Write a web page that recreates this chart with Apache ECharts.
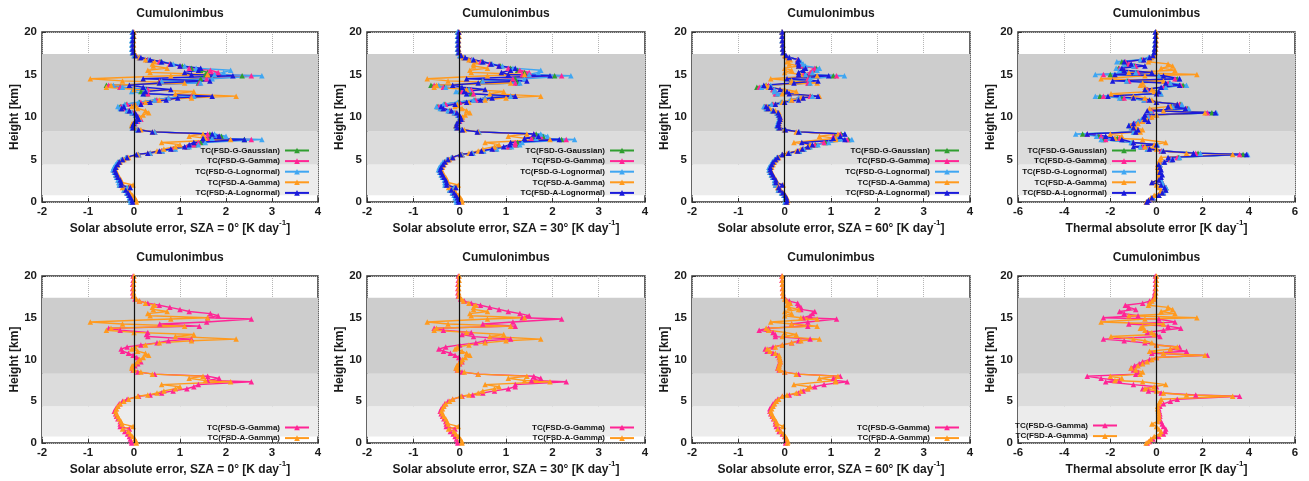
<!DOCTYPE html>
<html>
<head>
<meta charset="utf-8">
<script src="https://cdn.jsdelivr.net/npm/echarts@6/dist/echarts.min.js"></script>
<style>
html, body { margin: 0; padding: 0; background: #fff; }
#chart { width: 1309px; height: 481px; }
</style>
</head>
<body>
<div id="chart"></div>
<script>
// model levels (km), shared by every profile
var levels = [20, 19.5, 19, 18.5, 18, 17.6, 17.25,
    17, 16.75, 16.5, 16.25, 16, 15.75, 15.5, 15.25, 15, 14.85, 14.5, 14.25, 14,
    13.75, 13.5, 13.25, 13, 12.75, 12.45, 12.25, 12, 11.75, 11.5, 11.25, 11, 10.75,
    10.5, 10.25, 10, 9.75, 9.5, 9.25, 9, 8.75, 8.5, 8.25, 8, 7.75, 7.5,
    7.35, 7, 6.75, 6.5, 6.25, 6, 5.75, 5.6, 5.25, 5,
    4.7, 4.4, 4.1, 3.8, 3.5, 3.2, 2.9, 2.6, 2.3, 2, 1.7, 1.4, 1.1, 0.8, 0.5, 0.2, 0];

// solar, SZA = 0
var sza0GGauss = [-0.03, -0.03, -0.04, -0.04, -0.04, -0.03, 0.01,
    0.12, 0.3, 0.57, 0.8, 1.05, 1.25, 1.45, 1.6, 1.55, 2.35, 1.45, 0.55, 1.4,
    -0.6, -0.3, 0.28, 0.15, 0.28, 1.25, 0.75, 0.48, 0.12, -0.17, -0.3, -0.27, -0.13,
    -0.03, 0.05, 0.09, 0.14, 0.07, 0.01, -0.04, -0.03, 0.07, 0.45, 1.65, 1.9, 1.62,
    2.4, 1.45, 1.32, 1.16, 0.86, 0.6, 0.35, 0.1, -0.16, -0.26,
    -0.33, -0.37, -0.41, -0.44, -0.41, -0.39, -0.36, -0.32, -0.31, -0.31, -0.12, -0.21, -0.15, -0.11, -0.09, -0.07, -0.06];
var sza0GGamma = [-0.02, -0.02, -0.03, -0.03, -0.03, -0.02, 0.02,
    0.12, 0.3, 0.55, 0.78, 1.0, 1.2, 1.66, 1.83, 1.6, 2.55, 1.58, 0.56, 1.42,
    -0.55, -0.3, 0.3, 0.27, 0.3, 1.25, 0.75, 0.5, 0.15, -0.15, -0.28, -0.25, -0.12,
    -0.02, 0.06, 0.1, 0.15, 0.08, 0.02, -0.03, -0.02, 0.08, 0.45, 1.6, 1.85, 1.6,
    2.55, 1.4, 1.3, 1.15, 0.85, 0.6, 0.35, 0.1, -0.15, -0.25,
    -0.32, -0.36, -0.4, -0.43, -0.4, -0.38, -0.35, -0.3, -0.3, -0.3, -0.1, -0.2, -0.14, -0.1, -0.08, -0.06, -0.05];
var sza0GLogn = [-0.04, -0.04, -0.05, -0.05, -0.05, -0.04, 0,
    0.12, 0.32, 0.6, 0.85, 1.1, 1.35, 2.1, 1.95, 1.75, 2.78, 1.7, 0.6, 1.45,
    -0.45, -0.25, 0.25, -0.05, 0.2, 1.3, 0.75, 0.45, 0.1, -0.2, -0.35, -0.3, -0.15,
    -0.05, 0.03, 0.08, 0.12, 0.05, 0, -0.05, -0.04, 0.06, 0.45, 1.75, 2.0, 1.7,
    2.78, 1.55, 1.4, 1.2, 0.9, 0.62, 0.35, 0.1, -0.18, -0.28,
    -0.36, -0.4, -0.44, -0.46, -0.43, -0.4, -0.38, -0.35, -0.33, -0.32, -0.15, -0.22, -0.16, -0.12, -0.1, -0.08, -0.07];
var sza0AGamma = [0, 0, -0.01, -0.01, -0.01, 0, 0.05,
    0.12, 0.25, 0.45, 0.4, 0.42, 0.72, 0.3, 0.35, 1.6, 0.8, -0.95, -0.25, 1.1,
    -0.5, -0.6, 0, 1.3, 0.9, 2.22, 1.25, 0.55, 0.25, 0.02, -0.05, 0.08, 0.25,
    0.32, 0.2, 0.12, 0.08, 0.02, -0.04, -0.05, 0, 0.15, 0.4, 1.5, 1.2, 1.55,
    2.1, 0.6, 1.0, 0.9, 0.65, 0.5, 0.3, 0.08, -0.12, -0.22,
    -0.3, -0.35, -0.38, -0.4, -0.38, -0.35, -0.32, -0.28, -0.26, -0.02, -0.25, -0.12, -0.08, -0.03, 0.02, 0.05, 0.05];
var sza0ALogn = [-0.02, -0.02, -0.03, -0.03, -0.03, -0.02, 0.03,
    0.15, 0.35, 0.6, 0.8, 1.0, 1.45, 1.4, 1.1, 1.25, 2.15, 0.2, 1.65, 0.55,
    -0.1, 0.2, 0.8, 0.25, 0.2, 1.7, 0.95, 0.7, 0.35, 0.15, -0.22, -0.27, -0.1,
    0.02, 0.05, 0.08, 0.1, 0.04, -0.01, -0.03, -0.02, 0.1, 0.4, 1.7, 1.85, 1.5,
    2.4, 1.3, 1.2, 1.1, 0.8, 0.55, 0.3, 0.05, -0.15, -0.25,
    -0.32, -0.36, -0.4, -0.42, -0.4, -0.37, -0.35, -0.3, -0.28, -0.28, -0.08, -0.18, -0.13, -0.1, -0.07, -0.04, -0.03];

// solar, SZA = 30
var sza30GGauss = [-0.04, -0.04, -0.04, -0.04, -0.04, -0.03, 0.01,
    0.1, 0.26, 0.47, 0.67, 0.88, 1.1, 1.25, 1.4, 1.38, 2.05, 1.2, 0.48, 1.25,
    -0.62, -0.33, 0.22, 0.02, 0.25, 1.1, 0.55, 0.33, -0.02, -0.32, -0.47, -0.38, -0.22,
    -0.1, -0.03, 0.01, 0.05, -0.01, -0.06, -0.08, -0.06, 0.04, 0.4, 1.65, 1.8, 1.58,
    2.2, 1.25, 1.22, 1.07, 0.77, 0.5, 0.28, 0.05, -0.16, -0.26,
    -0.33, -0.37, -0.41, -0.43, -0.41, -0.38, -0.35, -0.31, -0.3, -0.3, -0.11, -0.21, -0.15, -0.11, -0.08, -0.06, -0.05];
var sza30GGamma = [-0.03, -0.03, -0.04, -0.04, -0.04, -0.03, 0.02,
    0.1, 0.25, 0.45, 0.65, 0.85, 1.05, 1.3, 1.5, 1.35, 2.2, 1.15, 0.5, 1.2,
    -0.55, -0.35, 0.25, 0.05, 0.3, 1.1, 0.55, 0.35, 0, -0.3, -0.45, -0.35, -0.2,
    -0.1, -0.02, 0.02, 0.05, 0, -0.05, -0.07, -0.05, 0.05, 0.4, 1.6, 1.75, 1.55,
    2.3, 1.2, 1.2, 1.05, 0.75, 0.5, 0.28, 0.05, -0.15, -0.25,
    -0.32, -0.36, -0.4, -0.42, -0.4, -0.37, -0.34, -0.3, -0.29, -0.29, -0.1, -0.2, -0.14, -0.1, -0.07, -0.05, -0.04];
var sza30GLogn = [-0.05, -0.05, -0.05, -0.05, -0.05, -0.04, 0,
    0.1, 0.27, 0.5, 0.7, 0.92, 1.15, 1.75, 1.7, 1.5, 2.4, 1.4, 0.5, 1.3,
    -0.45, -0.3, 0.2, -0.08, 0.15, 1.1, 0.55, 0.3, -0.05, -0.35, -0.5, -0.42, -0.25,
    -0.12, -0.04, 0, 0.04, -0.02, -0.07, -0.08, -0.07, 0.03, 0.42, 1.75, 1.9, 1.65,
    2.48, 1.35, 1.3, 1.12, 0.8, 0.52, 0.28, 0.05, -0.18, -0.28,
    -0.36, -0.4, -0.44, -0.46, -0.43, -0.4, -0.37, -0.33, -0.32, -0.32, -0.12, -0.22, -0.16, -0.12, -0.1, -0.08, -0.07];
var sza30AGamma = [-0.01, -0.01, -0.02, -0.02, -0.02, -0.01, 0.04,
    0.08, 0.2, 0.35, 0.3, 0.3, 0.6, 0.22, 0.25, 1.4, 0.6, -0.7, -0.25, 1.1,
    -0.5, -0.55, 0.15, 0.95, 0.65, 1.75, 1.0, 0.55, 0.2, -0.05, -0.1, 0.05, 0.15,
    0.22, 0.12, 0.06, 0.03, -0.02, -0.06, -0.08, -0.04, 0.1, 0.4, 1.45, 1.05, 1.4,
    1.95, 0.55, 0.85, 0.75, 0.5, 0.4, 0.2, 0.03, -0.15, -0.22,
    -0.3, -0.34, -0.37, -0.39, -0.37, -0.34, -0.3, -0.27, -0.25, -0.03, -0.24, -0.12, -0.08, -0.03, 0.02, 0.05, 0.05];
var sza30ALogn = [-0.02, -0.03, -0.03, -0.03, -0.03, -0.02, 0.03,
    0.12, 0.3, 0.5, 0.68, 0.85, 1.2, 1.1, 0.9, 1.05, 1.95, 0.15, 1.45, 0.4,
    -0.15, 0.05, 0.55, 0.1, 0.15, 1.2, 0.7, 0.45, 0.15, -0.1, -0.4, -0.35, -0.18,
    -0.06, -0.01, 0.02, 0.03, -0.02, -0.06, -0.07, -0.05, 0.06, 0.38, 1.6, 1.7, 1.4,
    2.15, 1.1, 1.08, 0.95, 0.7, 0.47, 0.25, 0.02, -0.15, -0.25,
    -0.32, -0.36, -0.4, -0.42, -0.4, -0.37, -0.34, -0.3, -0.28, -0.28, -0.08, -0.18, -0.12, -0.08, -0.05, -0.03, -0.02];

// solar, SZA = 60
var sza60GGauss = [-0.06, -0.06, -0.05, -0.05, -0.04, -0.03, 0.02,
    0.1, 0.28, 0.32, 0.37, 0.38, 0.68, 0.62, 0.57, 0.42, 1.05, 0.5, 0.14, 0.52,
    -0.4, -0.6, -0.25, -0.2, -0.18, 0.56, 0.3, 0.14, -0.06, -0.26, -0.43, -0.39, -0.26,
    -0.16, -0.13, -0.11, -0.11, -0.13, -0.14, -0.16, -0.13, 0, 0.31, 1.22, 1.08, 1.12,
    1.38, 0.88, 0.67, 0.52, 0.41, 0.31, 0.1, -0.05, -0.16, -0.21,
    -0.26, -0.29, -0.33, -0.33, -0.31, -0.28, -0.25, -0.21, -0.21, -0.19, -0.13, -0.13, -0.06, -0.01, 0.02, 0.03, 0.01];
var sza60GGamma = [-0.06, -0.06, -0.05, -0.05, -0.04, -0.03, 0.02,
    0.1, 0.28, 0.3, 0.35, 0.35, 0.65, 0.6, 0.55, 0.4, 1.12, 0.5, 0.15, 0.5,
    -0.35, -0.55, -0.25, -0.2, -0.2, 0.55, 0.3, 0.15, -0.05, -0.25, -0.42, -0.38, -0.25,
    -0.15, -0.12, -0.1, -0.1, -0.12, -0.13, -0.15, -0.12, 0, 0.3, 1.2, 1.05, 1.1,
    1.35, 0.85, 0.65, 0.5, 0.4, 0.3, 0.1, -0.05, -0.15, -0.2,
    -0.25, -0.28, -0.32, -0.32, -0.3, -0.27, -0.24, -0.2, -0.2, -0.18, -0.12, -0.12, -0.05, 0, 0.03, 0.04, 0.02];
var sza60GLogn = [-0.06, -0.06, -0.06, -0.05, -0.05, -0.04, 0.01,
    0.1, 0.3, 0.35, 0.4, 0.45, 0.75, 0.7, 0.6, 0.45, 1.29, 0.55, 0.15, 0.55,
    -0.3, -0.5, -0.22, -0.22, -0.15, 0.6, 0.3, 0.12, -0.08, -0.28, -0.45, -0.4, -0.27,
    -0.17, -0.14, -0.12, -0.12, -0.14, -0.15, -0.17, -0.14, -0.01, 0.32, 1.3, 1.15, 1.2,
    1.45, 0.95, 0.72, 0.55, 0.42, 0.32, 0.1, -0.06, -0.17, -0.22,
    -0.27, -0.3, -0.34, -0.34, -0.32, -0.29, -0.26, -0.22, -0.22, -0.2, -0.14, -0.14, -0.07, -0.02, 0.01, 0.02, 0.01];
var sza60AGamma = [-0.05, -0.05, -0.05, -0.04, -0.04, -0.03, 0,
    0.05, 0.12, 0.05, 0.1, 0.3, 0, 0.15, 0, 0.35, 0.7, -0.3, 0.15, 0.7,
    -0.4, -0.35, 0, 0.25, -0.05, 0.75, 0.35, 0.15, -0.05, -0.2, -0.38, -0.32, -0.2,
    -0.12, -0.11, -0.1, -0.09, -0.11, -0.12, -0.14, -0.1, 0, 0.25, 1.15, 0.75, 1.1,
    1.1, 0.2, 0.55, 0.5, 0.35, 0.25, 0.05, -0.05, -0.13, -0.18,
    -0.22, -0.25, -0.28, -0.3, -0.28, -0.25, -0.22, -0.18, -0.17, -0.03, -0.15, -0.08, -0.02, 0.02, 0.05, 0.07, 0.06];
var sza60ALogn = [-0.05, -0.05, -0.05, -0.04, -0.04, -0.03, 0.03,
    0.1, 0.3, 0.28, 0.3, 0.3, 0.45, 0.4, 0.3, 0.3, 0.95, 0.05, 0.72, 0.2,
    -0.45, -0.3, -0.1, 0.05, 0.1, 0.72, 0.4, 0.3, 0, -0.2, -0.4, -0.36, -0.24,
    -0.14, -0.12, -0.1, -0.1, -0.12, -0.13, -0.15, -0.11, 0.02, 0.3, 1.3, 1.2, 1.05,
    1.3, 0.37, 0.6, 0.5, 0.38, 0.28, 0.08, -0.05, -0.15, -0.2,
    -0.25, -0.28, -0.31, -0.31, -0.29, -0.26, -0.23, -0.19, -0.19, -0.05, -0.13, -0.1, -0.04, 0.01, 0.04, 0.05, 0.04];

// thermal
var thGGauss = [-0.05, -0.05, -0.05, -0.06, -0.08, -0.1, -0.16,
    -0.32, -0.65, -1.5, -1.3, -0.95, -1.65, -1.5, -0.85, -2.0, 0.1, 0.9, -1.25, 0.55,
    1.15, 0.35, -0.42, 0, 0.18, -2.45, -1.5, -0.52, 0, 1.05, 0.65, 1.35, -0.22,
    2.4, 0, -0.32, -0.62, -0.78, -0.97, -1.15, -1.05, -0.82, -0.95, -3.2, -2.5, -1.7,
    -2.3, -1.05, 0.02, -0.65, -0.38, 0.22, 1.8, 3.75, 0.95, 0.62,
    0.31, 0.15, 0.1, 0.12, 0.15, 0.15, 0.12, 0.2, 0.25, 0.3, 0.41, 0.39, 0.3, 0.1, -0.15, -0.31, -0.41];
var thGGamma = [-0.05, -0.05, -0.05, -0.06, -0.08, -0.1, -0.15,
    -0.3, -0.6, -1.35, -1.2, -0.9, -1.6, -1.4, -0.8, -2.3, 0.1, 0.8, -1.2, 0.5,
    1.05, 0.3, -0.4, 0, 0.15, -2.3, -1.4, -0.5, 0, 1.0, 0.6, 1.3, -0.2,
    2.2, 0, -0.3, -0.6, -0.75, -0.95, -1.1, -1.0, -0.8, -0.9, -3.0, -2.4, -1.6,
    -2.2, -1.0, 0, -0.6, -0.35, 0.2, 1.7, 3.6, 0.9, 0.6,
    0.3, 0.15, 0.1, 0.12, 0.15, 0.15, 0.12, 0.2, 0.25, 0.3, 0.4, 0.38, 0.3, 0.1, -0.15, -0.3, -0.4];
var thGLogn = [-0.05, -0.05, -0.06, -0.07, -0.09, -0.11, -0.17,
    -0.35, -0.7, -1.72, -1.4, -1.0, -1.75, -1.6, -0.9, -2.65, 0.1, 1.0, -1.3, 0.6,
    1.3, 0.4, -0.45, 0, 0.2, -2.65, -1.6, -0.55, 0, 1.1, 0.7, 1.4, -0.25,
    2.6, 0, -0.35, -0.65, -0.8, -1.0, -1.2, -1.1, -0.85, -1.0, -3.5, -2.6, -1.8,
    -2.4, -1.1, 0.05, -0.7, -0.4, 0.25, 1.9, 3.95, 1.0, 0.65,
    0.32, 0.15, 0.1, 0.12, 0.15, 0.15, 0.12, 0.2, 0.25, 0.3, 0.42, 0.4, 0.3, 0.1, -0.15, -0.32, -0.42];
var thAGamma = [0, 0, -0.01, -0.02, -0.03, -0.05, -0.1,
    -0.2, -0.3, -0.35, 0.5, 0.7, 0.2, 0.8, -1.2, 1.75, -0.5, -2.4, 0.3, -0.6,
    -0.7, -0.5, -0.2, -0.1, -1.97, -1.0, -0.5, -0.2, 0, 0.9, 0.6, -0.3, 0.3,
    2.1, 0, -0.2, -0.4, -0.6, -0.8, -1.1, -0.9, -0.6, -0.7, -2.0, -1.5, -1.8,
    -0.6, 0.4, -0.1, -0.5, 0, 0.3, 1.3, 3.3, 0.2, 0.15,
    0.1, 0.05, 0.05, 0.08, 0.1, 0.1, 0.1, 0.05, -0.2, 0, 0.1, 0.2, 0.15, -0.1, -0.25, -0.35, -0.45];
var thALogn = [-0.05, -0.05, -0.05, -0.06, -0.08, -0.1, -0.15,
    -0.3, -0.55, -1.4, -1.1, -0.5, -1.5, -1.4, -0.2, -1.8, 0.3, 1.0, -1.9, 0.4,
    1.0, 0.2, -0.5, 0.1, 0, -2.1, -1.0, -0.3, 0, 0.9, 0.5, 1.25, -0.4,
    2.55, -0.5, -0.55, -0.5, -0.35, -1.0, -1.2, -1.0, -0.8, -0.9, -3.0, -2.2, -1.9,
    -1.5, -1.0, 0, -1.0, -0.3, 0.3, 1.6, 3.9, 0.5, 0.7,
    0.35, 0.1, 0.15, 0.2, 0.15, 0.25, 0.2, 0.1, -0.2, 0.2, 0.35, 0.4, 0.25, 0.1, -0.2, -0.35, -0.42];

var xTicksSolar = { min: -2, max: 4, interval: 1 };
var xTicksThermal = { min: -6, max: 6, interval: 2 };

var FONT = '"Liberation Sans", Arial, sans-serif';
var C = {
    gauss: '#2f9e2f',
    gamma: '#ff2595',
    logn: '#3fa6f2',
    aGamma: '#ff9a1e',
    aLogn: '#1a1adb'
};

var cols = [
    { left: 42, width: 276 },
    { left: 367, width: 278 },
    { left: 692, width: 278 },
    { left: 1018, width: 277 }
];
var rows = [
    { top: 32, height: 170 },
    { top: 276, height: 171 }
];

function full(g, gm, lg, ag, al) {
    return [
        ['TC(FSD-G-Gaussian)', g, C.gauss],
        ['TC(FSD-G-Gamma)', gm, C.gamma],
        ['TC(FSD-G-Lognormal)', lg, C.logn],
        ['TC(FSD-A-Gamma)', ag, C.aGamma],
        ['TC(FSD-A-Lognormal)', al, C.aLogn]
    ];
}
function two(gm, ag) {
    return [
        ['TC(FSD-G-Gamma)', gm, C.gamma],
        ['TC(FSD-A-Gamma)', ag, C.aGamma]
    ];
}

var panels = [
    { r: 0, c: 0, ax: xTicksSolar, xName: 'Solar absolute error, SZA = 0° [K day{sup|-1}]', lines: full(sza0GGauss, sza0GGamma, sza0GLogn, sza0AGamma, sza0ALogn), lg: { right: 999, top: 146 } },
    { r: 0, c: 1, ax: xTicksSolar, xName: 'Solar absolute error, SZA = 30° [K day{sup|-1}]', lines: full(sza30GGauss, sza30GGamma, sza30GLogn, sza30AGamma, sza30ALogn), lg: { right: 674, top: 146 } },
    { r: 0, c: 2, ax: xTicksSolar, xName: 'Solar absolute error, SZA = 60° [K day{sup|-1}]', lines: full(sza60GGauss, sza60GGamma, sza60GLogn, sza60AGamma, sza60ALogn), lg: { right: 349, top: 146 } },
    { r: 0, c: 3, ax: xTicksThermal, xName: 'Thermal absolute error [K day{sup|-1}]', lines: full(thGGauss, thGGamma, thGLogn, thAGamma, thALogn), lg: { right: 172, top: 146 } },
    { r: 1, c: 0, ax: xTicksSolar, xName: 'Solar absolute error, SZA = 0° [K day{sup|-1}]', lines: two(sza0GGamma, sza0AGamma), lg: { right: 999, top: 423 } },
    { r: 1, c: 1, ax: xTicksSolar, xName: 'Solar absolute error, SZA = 30° [K day{sup|-1}]', lines: two(sza30GGamma, sza30AGamma), lg: { right: 674, top: 423 } },
    { r: 1, c: 2, ax: xTicksSolar, xName: 'Solar absolute error, SZA = 60° [K day{sup|-1}]', lines: two(sza60GGamma, sza60AGamma), lg: { right: 349, top: 423 } },
    { r: 1, c: 3, ax: xTicksThermal, xName: 'Thermal absolute error [K day{sup|-1}]', lines: two(thGGamma, thAGamma), lg: { right: 191, top: 421 } }
];

function pairs(vals) {
    return vals.map(function (v, i) { return [v, levels[i]]; });
}

var labelStyle = { fontFamily: FONT, fontSize: 11.5, fontWeight: 'bold', color: '#1a1a1a' };
var nameStyle = { fontFamily: FONT, fontSize: 12, fontWeight: 'bold', color: '#1a1a1a' };

var option = {
    animation: false,
    backgroundColor: '#ffffff',
    title: [], grid: [], xAxis: [], yAxis: [], legend: [], series: []
};

panels.forEach(function (p, i) {
    var col = cols[p.c], row = rows[p.r];
    option.title.push({
        text: 'Cumulonimbus',
        left: col.left + col.width / 2,
        top: row.top - 24,
        textAlign: 'center',
        padding: 0,
        textStyle: { fontFamily: FONT, fontSize: 12, fontWeight: 'bold', color: '#1a1a1a' }
    });
    option.grid.push({
        left: col.left, top: row.top, width: col.width, height: row.height,
        show: true, borderColor: '#333', borderWidth: 1.5, backgroundColor: 'transparent'
    });
    option.xAxis.push({
        gridIndex: i, type: 'value',
        min: p.ax.min, max: p.ax.max, interval: p.ax.interval,
        name: p.xName, nameLocation: 'middle', nameGap: 16,
        nameTextStyle: Object.assign({}, nameStyle, {
            lineHeight: 20,
            rich: { sup: { fontFamily: FONT, fontSize: 8, fontWeight: 'bold', color: '#1a1a1a', lineHeight: 10, verticalAlign: 'top' } }
        }),
        axisLine: { show: false, onZero: false },
        axisTick: { inside: true, length: 4, lineStyle: { color: '#333' } },
        axisLabel: Object.assign({ margin: 4 }, labelStyle),
        splitLine: { show: true, lineStyle: { type: 'dotted', color: '#b5b5b5' } }
    });
    option.yAxis.push({
        gridIndex: i, type: 'value', min: 0, max: 20, interval: 5,
        name: 'Height [km]', nameLocation: 'middle', nameGap: 21,
        nameTextStyle: nameStyle,
        axisLine: { show: false, onZero: false },
        axisTick: { inside: true, length: 4, lineStyle: { color: '#333' } },
        axisLabel: Object.assign({ margin: 5 }, labelStyle),
        splitLine: { show: true, lineStyle: { type: 'dotted', color: '#b5b5b5' } }
    });
    // cloud layers and the zero line
    option.series.push({
        type: 'line', xAxisIndex: i, yAxisIndex: i, data: [], silent: true, z: 1,
        markArea: {
            silent: true,
            data: [
                [{ yAxis: 0.8, itemStyle: { color: '#ececec' } }, { yAxis: 4.4 }],
                [{ yAxis: 4.4, itemStyle: { color: '#dcdcdc' } }, { yAxis: 8.3 }],
                [{ yAxis: 8.3, itemStyle: { color: '#cdcdcd' } }, { yAxis: 17.4 }]
            ]
        },
        markLine: {
            silent: true, symbol: ['none', 'none'], label: { show: false },
            lineStyle: { color: '#111', type: 'solid', width: 1.2 },
            data: [{ xAxis: 0 }]
        }
    });
    var names = [];
    p.lines.forEach(function (ln) {
        names.push(ln[0]);
        option.series.push({
            type: 'line', name: ln[0], xAxisIndex: i, yAxisIndex: i,
            data: pairs(ln[1]),
            symbol: 'triangle', symbolSize: 5.5,
            lineStyle: { width: 1.4, color: ln[2] },
            itemStyle: { color: ln[2] },
            z: 2
        });
    });
    option.legend.push({
        data: names, orient: 'vertical', align: 'right',
        right: p.lg.right, top: p.lg.top, padding: 0,
        itemGap: 1.6, itemWidth: 24, itemHeight: 7,
        textStyle: { fontFamily: FONT, fontSize: 8, fontWeight: 'bold', color: '#111', lineHeight: 9 }
    });
});

var chart = echarts.init(document.getElementById('chart'));
chart.setOption(option);
</script>
</body>
</html>
